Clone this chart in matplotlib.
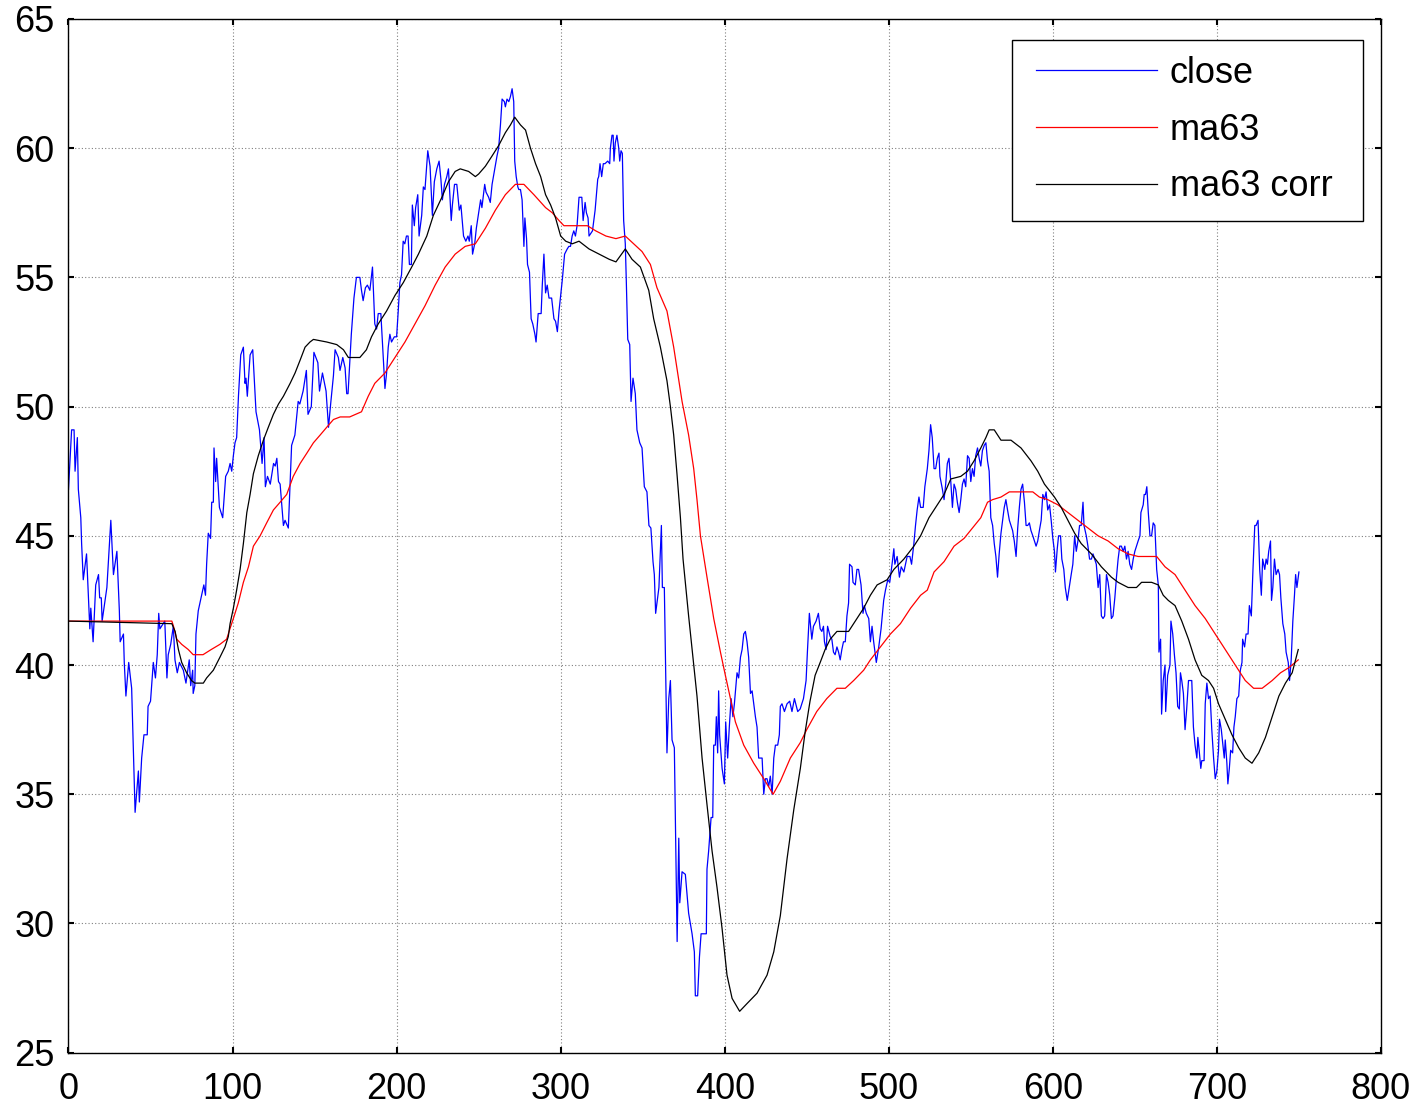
import matplotlib
matplotlib.use("Agg")
import matplotlib.pyplot as plt
from matplotlib.patches import Rectangle

# ---- data ----
close_x = [0, 1.9, 3.4, 4.0, 5.4, 6.0, 7.5, 8.0, 9.0, 11.0, 13.0, 13.6, 15.0, 16.6, 18.3, 19.0, 20.0, 20.5,
           23.4, 25.8, 27.4, 29.5, 31.0, 31.5, 33.5, 34.0, 35.0, 36.7, 38.5, 40.6, 42.6, 43.2, 44.6, 46.0,
           48.0, 48.5, 50.0, 51.7, 53.0, 54.1, 55.0, 55.7, 58.7, 60.0, 60.8, 62.3, 63.9, 64.9, 66.3, 67.6,
           70.0, 71.6, 73.6, 74.5, 75.7, 76.0, 77.0, 77.7, 79.1, 81.1, 82.5, 83.5, 84.2, 85.2, 86.6, 87.3,
           88.3, 88.7, 89.7, 90.3, 92.0, 94.0, 95.8, 97.4, 98.5, 99.5, 100.5, 101.5, 102.5, 103.6, 105.0,
           106.6, 107.6, 108.2, 109.0, 110.7, 112.3, 114.3, 116.4, 118.0, 119.2, 120.0, 121.3, 123.0, 125.0,
           126.0, 127.0, 128.0, 129.0, 131.0, 132.0, 134.0, 136.0, 138.0, 140.0, 141.0, 143.0, 145.0, 146.0,
           148.0, 149.6, 152.0, 153.0, 154.8, 157.0, 158.5, 159.8, 161.5, 162.5, 164.5, 165.5, 167.2, 168.6,
           169.6, 170.4, 172.4, 174.0, 175.5, 177.6, 178.6, 179.6, 181.0, 182.2, 183.7, 185.3, 186.7, 187.8,
           188.8, 190.4, 191.8, 192.9, 193.9, 194.9, 195.9, 196.9, 198.6, 200.0, 201.0, 202.0, 203.0, 204.0,
           205.0, 206.0, 207.0, 207.8, 209.0, 209.6, 210.8, 211.6, 212.9, 213.7, 215.3, 216.3, 217.3, 219.0,
           220.4, 221.8, 223.0, 224.5, 225.9, 227.0, 227.9, 229.2, 230.6, 231.6, 233.3, 234.0, 235.3, 236.7,
           238.2, 239.2, 240.8, 242.2, 243.5, 244.3, 245.5, 246.3, 247.6, 248.6, 250.0, 251.2, 252.0, 253.7,
           254.5, 256.1, 257.1, 258.2, 259.8, 261.2, 262.2, 263.3, 264.3, 265.7, 266.3, 267.3, 268.4, 269.4,
           270.4, 271.4, 272.0, 272.9, 273.9, 274.5, 275.5, 276.5, 277.6, 278.2, 279.2, 279.8, 281.0, 282.0,
           283.0, 284.3, 285.0, 286.3, 288.1, 288.8, 289.8, 290.8, 291.8, 292.9, 294.5, 295.9, 296.9, 298.0,
           299.0, 301.0, 302.4, 304.0, 305.0, 306.0, 307.0, 308.0, 309.0, 310.0, 311.2, 312.9, 313.7, 314.9,
           315.7, 316.7, 317.3, 319.4, 320.0, 321.0, 322.6, 323.2, 324.0, 325.0, 326.0, 327.0, 328.7, 329.9,
           330.3, 331.3, 332.0, 332.5, 333.3, 334.3, 335.4, 336.0, 336.8, 337.6, 338.4, 339.4, 340.0, 340.9,
           342.1, 342.9, 344.1, 345.5, 346.5, 348.2, 349.6, 351.0, 352.6, 353.8, 355.0, 356.3, 357.1, 357.9,
           359.1, 359.9, 361.4, 362.0, 363.2, 364.8, 365.9, 366.9, 367.9, 369.3, 371.0, 372.0, 372.6, 374.0,
           376.0, 378.0, 380.1, 381.5, 382.1, 383.5, 384.6, 385.6, 387.2, 388.8, 389.2, 390.2, 391.7, 392.7,
           393.3, 394.3, 394.9, 395.7, 396.3, 396.9, 398.4, 399.8, 400.6, 401.8, 402.8, 403.9, 405.0, 405.9,
           407.5, 408.5, 409.6, 410.6, 411.6, 412.6, 413.6, 414.6, 415.7, 416.7, 417.7, 418.7, 419.7, 420.7,
           422.8, 423.8, 424.8, 425.8, 426.8, 427.8, 428.9, 429.9, 430.9, 432.3, 433.3, 433.9, 434.9, 436.4,
           438.0, 439.6, 441.0, 442.5, 444.5, 446.0, 448.0, 449.6, 450.4, 451.6, 453.1, 454.1, 455.7, 457.1,
           458.2, 459.2, 460.2, 460.8, 461.8, 462.7, 464.3, 465.3, 466.3, 467.3, 468.4, 469.4, 470.4, 471.4,
           472.4, 473.5, 474.5, 475.5, 476.1, 477.6, 478.2, 479.6, 480.6, 481.6, 483.1, 484.3, 485.1, 486.3,
           487.8, 488.8, 489.8, 490.8, 492.4, 493.9, 495.3, 496.9, 498.0, 499.4, 500.6, 502.0, 503.1, 503.7,
           505.1, 506.5, 507.6, 509.2, 510.2, 511.2, 512.9, 513.9, 515.3, 516.3, 517.3, 518.4, 519.4, 521.0,
           522.0, 523.5, 524.5, 525.5, 526.5, 527.6, 528.6, 529.6, 530.6, 531.2, 532.7, 533.7, 534.7, 535.7,
           536.7, 537.8, 538.8, 539.8, 540.8, 541.8, 542.9, 543.9, 544.9, 545.9, 546.9, 548.0, 549.0, 550.0,
           551.0, 552.0, 553.0, 554.1, 555.1, 556.1, 557.1, 558.2, 559.2, 560.2, 561.2, 562.2, 563.3, 564.3,
           565.3, 566.3, 567.3, 568.4, 569.4, 570.4, 571.4, 572.4, 573.5, 574.5, 575.5, 576.5, 577.6, 578.6,
           579.6, 580.6, 581.6, 582.7, 583.7, 584.7, 585.7, 586.7, 587.8, 588.8, 589.8, 590.8, 591.8, 592.9,
           593.9, 594.9, 595.9, 596.9, 598.0, 599.0, 600.0, 601.0, 601.6, 602.7, 603.5, 604.7, 605.5, 606.7,
           607.6, 608.8, 610.2, 611.2, 612.2, 613.3, 614.3, 615.3, 616.3, 617.3, 618.4, 619.0, 620.4, 621.4,
           622.4, 623.5, 624.5, 625.5, 626.5, 627.6, 628.6, 629.6, 630.6, 631.6, 632.7, 633.7, 634.7, 635.7,
           636.7, 637.8, 638.8, 639.8, 640.8, 641.8, 642.9, 643.9, 644.9, 645.9, 646.9, 648.0, 649.0, 650.0,
           651.0, 652.0, 653.1, 653.7, 655.1, 655.7, 656.5, 657.3, 658.2, 659.2, 660.2, 661.2, 662.2, 663.3,
           664.3, 664.7, 665.7, 666.3, 667.3, 668.4, 668.8, 670.0, 671.4, 672.0, 673.1, 674.1, 675.1, 676.1,
           677.1, 677.8, 678.6, 679.6, 680.6, 681.6, 682.7, 683.7, 684.7, 685.7, 686.7, 687.8, 688.4, 689.2,
           690.2, 690.8, 692.2, 692.9, 693.9, 694.9, 695.9, 696.9, 698.0, 699.0, 700.0, 701.0, 701.6, 702.7,
           703.5, 704.5, 705.1, 706.1, 706.7, 707.6, 708.4, 709.6, 710.4, 711.2, 712.2, 713.3, 714.3, 715.3,
           715.7, 716.9, 717.8, 719.0, 719.8, 721.0, 722.0, 723.1, 723.9, 725.1, 726.1, 727.1, 727.9, 729.2,
           730.0, 730.8, 731.6, 732.7, 733.3, 734.1, 735.1, 736.1, 737.3, 738.2, 739.0, 740.2, 741.4, 742.2,
           743.5, 744.3, 745.3, 746.3, 747.3, 748.0, 748.8, 750.0]
close_y = [46.8, 49.1, 49.1, 47.5, 48.8, 46.8, 45.7, 44.7, 43.3, 44.3, 41.4, 42.2, 40.9, 43.1, 43.5, 42.6, 42.6, 41.7,
           43.0, 45.6, 43.5, 44.4, 42.1, 40.9, 41.2, 40.1, 38.8, 40.1, 39.1, 34.3, 35.9, 34.7, 36.4, 37.3,
           37.3, 38.4, 38.6, 40.1, 39.5, 40.4, 42.0, 41.4, 41.7, 39.5, 40.4, 40.8, 41.5, 40.2, 39.7, 40.1,
           39.8, 39.3, 40.2, 39.2, 39.8, 38.9, 39.2, 41.2, 42.1, 42.7, 43.1, 42.7, 43.9, 45.1, 44.9, 46.3,
           46.3, 48.4, 47.1, 48.0, 46.1, 45.7, 47.3, 47.5, 47.8, 47.5, 48.1, 48.6, 48.8, 50.4, 52.0,
           52.3, 50.9, 51.1, 50.4, 52.0, 52.2, 49.8, 49.1, 47.8, 48.8, 46.9, 47.3, 47.0, 47.8,
           47.7, 48.0, 47.1, 47.0, 45.4, 45.6, 45.3, 48.5, 48.9, 50.2, 50.1, 50.6, 51.4, 49.7,
           50.0, 52.1, 51.7, 50.6, 51.3, 50.6, 49.2, 50.1, 51.2, 52.2, 51.9, 51.4, 51.9, 51.5,
           50.5, 50.5, 52.8, 54.2, 55.0, 55.0, 54.5, 54.1, 54.6, 54.7, 54.5, 55.4, 53.2, 53.0,
           53.6, 53.6, 52.0, 50.7, 51.3, 52.3, 52.8, 52.5, 52.7, 52.7, 53.7, 54.8, 55.1, 56.4,
           56.3, 56.6, 56.6, 55.5, 55.5, 57.8, 57.0, 57.7, 58.2, 56.6, 57.4, 58.5, 58.4, 59.9,
           59.3, 57.4, 58.7, 59.2, 59.5, 58.8, 58.0, 58.6, 58.9, 59.2, 57.2, 57.8, 58.6, 58.6,
           57.6, 57.8, 56.6, 56.4, 56.6, 56.4, 57.0, 55.9, 56.3, 56.9, 57.5, 58.0, 57.7, 58.6,
           58.3, 58.1, 57.9, 58.6, 59.2, 59.7, 60.0, 60.9, 61.9, 61.8, 61.6, 61.9, 61.8, 62.0,
           62.3, 61.8, 59.5, 58.9, 58.5, 58.4, 58.4, 58.0, 56.2, 57.3, 56.5, 55.5, 55.2, 53.4,
           53.2, 52.8, 52.5, 53.6, 53.6, 54.7, 55.9, 54.4, 54.7, 54.2, 54.2, 53.4, 53.3, 52.9,
           53.7, 54.9, 55.9, 56.1, 56.2, 56.2, 56.6, 56.8, 56.6, 57.0, 58.1, 58.1, 57.2, 57.9,
           57.5, 57.3, 56.6, 56.8, 57.1, 57.6, 58.8, 58.9, 59.4, 58.9, 59.4, 59.4, 59.5, 59.4,
           60.0, 60.5, 60.5, 59.5, 60.2, 60.5, 60.0, 59.5, 59.9, 59.8, 57.2, 56.3, 54.9, 52.6,
           52.4, 50.2, 51.1, 50.5, 49.1, 48.6, 48.4, 46.9, 46.7, 45.4, 45.3, 44.0, 43.5, 42.0,
           42.6, 43.0, 45.4, 43.0, 43.0, 36.6, 38.7, 39.4, 37.1, 36.8, 29.3, 33.3, 30.8, 32.0,
           31.9, 30.4, 29.6, 28.9, 27.2, 27.2, 28.7, 29.6, 29.6, 29.6, 32.1, 32.8, 34.1, 34.1,
           36.9, 36.9, 38.0, 36.6, 39.0, 37.3, 36.0, 35.4, 37.8, 36.4, 37.6, 38.7, 38.0, 38.5,
           39.7, 39.5, 40.3, 40.6, 41.2, 41.3, 40.9, 40.3, 38.9, 39.0, 38.5, 38.0, 37.6, 36.4,
           36.4, 35.0, 35.6, 35.6, 35.3, 35.7, 35.0, 36.4, 36.9, 36.9, 37.3, 38.4, 38.5, 38.2,
           38.5, 38.6, 38.2, 38.7, 38.2, 38.3, 38.7, 39.4, 40.5, 42.0, 41.0, 41.5, 41.7, 42.0,
           41.4, 41.3, 41.5, 40.9, 40.6, 41.5, 41.1, 41.0, 40.5, 40.4, 40.7, 40.5, 40.2, 40.6,
           40.9, 40.9, 41.9, 42.4, 43.9, 43.8, 43.2, 43.1, 43.7, 43.7, 43.1, 42.0, 42.3, 42.0,
           41.8, 40.9, 41.5, 40.9, 40.1, 40.7, 41.4, 42.5, 42.9, 43.3, 43.2, 43.9, 44.5, 43.9,
           44.2, 43.4, 43.8, 43.6, 43.9, 44.2, 44.2, 43.9, 44.7, 45.4, 46.0, 46.5, 46.1, 46.1,
           46.9, 47.6, 48.3, 49.3, 48.8, 47.6, 47.6, 48.0, 48.2, 47.3, 46.8, 46.4, 47.0, 47.8,
           48.0, 47.1, 46.1, 47.0, 46.8, 46.3, 45.9, 46.4, 47.0, 47.2, 46.9, 48.1, 48.0, 47.1,
           47.6, 47.3, 48.1, 48.4, 48.0, 47.7, 48.3, 48.5, 48.6, 47.9, 47.5, 45.7, 45.4, 44.7,
           44.2, 43.4, 44.3, 45.1, 45.6, 46.1, 46.4, 46.0, 45.6, 45.4, 45.2, 44.8, 44.2, 45.3,
           46.1, 46.8, 47.0, 46.3, 45.4, 45.4, 45.5, 45.2, 45.0, 44.8, 44.6, 44.8, 45.2, 45.6,
           46.6, 46.4, 46.7, 46.0, 46.2, 45.6, 44.9, 44.4, 43.6, 44.5, 45.0, 45.0, 44.1, 43.7,
           43.0, 42.5, 43.1, 43.5, 43.9, 45.0, 44.4, 44.8, 45.4, 45.4, 46.3, 45.4, 45.0, 44.6,
           44.1, 44.1, 44.3, 44.1, 43.9, 43.0, 43.5, 41.9, 41.8, 41.9, 43.5, 43.2, 42.7, 41.8,
           41.9, 42.6, 43.4, 44.1, 44.6, 44.6, 44.4, 44.6, 44.1, 44.4, 43.9, 43.7, 44.1, 44.4,
           44.6, 44.8, 45.0, 45.9, 46.2, 46.6, 46.6, 46.9, 45.9, 45.0, 45.0, 45.5, 45.4, 43.7,
           43.1, 40.5, 41.0, 38.1, 39.4, 40.0, 38.2, 39.6, 40.0, 41.7, 41.2, 40.4, 39.7, 38.4,
           38.3, 39.7, 39.4, 38.9, 37.5, 38.3, 39.4, 39.4, 39.4, 37.6, 36.9, 36.4, 37.2, 36.7,
           36.0, 36.3, 36.3, 38.5, 39.3, 38.7, 38.8, 37.5, 36.4, 35.6, 35.9, 36.7, 37.9, 37.5,
           37.0, 36.4, 37.1, 36.2, 35.4, 36.0, 36.7, 36.6, 37.6, 38.0, 38.7, 38.8, 39.8, 40.1,
           41.0, 40.7, 41.2, 41.2, 42.3, 41.9, 43.7, 45.4, 45.4, 45.6, 43.7, 42.7, 44.1, 43.7,
           44.1, 43.9, 44.4, 44.8, 42.5, 43.0, 44.1, 43.5, 43.7, 43.5, 42.6, 41.6, 41.2, 40.5,
           40.1, 39.4, 40.2, 41.7, 42.7, 43.5, 43.0, 43.6]

ma63_x = [0, 63, 64, 66, 69, 73, 76, 82, 87, 92.3, 96.4, 98.4, 100.5, 103.5, 106.6, 109.7, 112.7, 116.8,
          120.8, 124.9, 129, 133, 137, 141.2, 145.3, 149.3, 153.4, 157.4, 161.5, 165.6, 171.4, 178.6,
          182.7, 186.7, 192.9, 199, 205.1, 211.2, 217.3, 223.5, 229.6, 235.7, 241.8, 248, 254.1, 260.2,
          266.3, 272.4, 274.5, 277.6, 283.7, 290.8, 294.9, 299, 302, 316.3, 321.4, 327.6, 333.7, 339.4,
          344.5, 349.6, 354.7, 358.7, 364.8, 368.9, 374, 378, 381.1, 383.1, 385.2, 389.2, 393.3, 397.4,
          400.4, 403.5, 406.5, 411.6, 417.7, 423.8, 429.5, 433.9, 440, 446.1, 450, 456.1, 462.2, 468.4, 473.5,
          478.6, 484.7, 488.8, 494.9, 501, 507.1, 513.3, 519.4, 523.5, 527.6, 533.7, 539.8, 545.9, 551,
          556.1, 560.2, 563.3, 568.4, 573.5, 587.8, 591.8, 596.9, 603.1, 609.2, 615.3, 621.4, 627.6,
          633.7, 639.8, 645.9, 652, 663.3, 668.4, 674.5, 680.6, 686.7, 692.9, 699, 705.1, 711.2, 717.3,
          722.4, 727.6, 733.7, 738.8, 743.9, 749.6]
ma63_y = [41.7, 41.7, 41.5, 41.0, 40.8, 40.6, 40.4, 40.4, 40.6, 40.8, 41.0, 41.4, 41.8, 42.4, 43.2, 43.8, 44.6, 45.0,
          45.5, 46.0, 46.3, 46.6, 47.3, 47.8, 48.2, 48.6, 48.9, 49.2, 49.5, 49.6, 49.6, 49.8,
          50.4, 50.9, 51.3, 51.9, 52.5, 53.2, 53.9, 54.7, 55.4, 55.9, 56.2, 56.3, 56.9, 57.6,
          58.2, 58.6, 58.6, 58.6, 58.2, 57.7, 57.5, 57.2, 57.0, 57.0, 56.8, 56.6, 56.5, 56.6,
          56.3, 56.0, 55.5, 54.6, 53.7, 52.3, 50.2, 48.9, 47.6, 46.4, 45.0, 43.4, 41.8, 40.5,
          39.6, 38.7, 37.8, 36.9, 36.2, 35.6, 35.0, 35.5, 36.4, 37.0, 37.5, 38.2, 38.7, 39.1, 39.1,
          39.4, 39.8, 40.2, 40.7, 41.2, 41.6, 42.2, 42.7, 42.9, 43.6, 44.0, 44.6, 44.9, 45.3,
          45.7, 46.3, 46.4, 46.5, 46.7, 46.7, 46.5, 46.4, 46.2, 45.9, 45.6, 45.3, 45.0,
          44.8, 44.5, 44.3, 44.2, 44.2, 43.8, 43.5, 42.9, 42.3, 41.8, 41.2, 40.6, 40.0, 39.4,
          39.1, 39.1, 39.4, 39.7, 39.9, 40.2]

corr_x = [0, 63, 65, 67, 69, 72, 75, 77, 82.2, 84.2, 88.3, 92.3, 95.4, 97.4, 98.5, 100.5, 102.5, 104.6,
          106.6, 108.7, 110.7, 112.7, 115.7, 118.8, 121.8, 124.9, 128, 131, 135.1, 138.1, 141.2, 144.2,
          147.2, 149.3, 157.4, 163.5, 167.6, 170.6, 177.6, 181.6, 184.7, 188.8, 193.9, 199, 204.1, 209.2,
          213.3, 218.4, 222.4, 227.6, 231.6, 235.7, 238.8, 243.9, 248, 250, 254.1, 258.2, 262.2, 266.3,
          269.4, 272, 275.5, 278.6, 281.6, 284.7, 287.8, 290.8, 293.9, 296.9, 300, 303.1, 307.1, 311.2,
          317.3, 323.5, 329.6, 333.7, 339.4, 343.5, 348.6, 353.7, 356.7, 360.8, 364.8, 366.9, 368.9, 370.9,
          373, 374.6, 378, 381.1, 383.1, 386.2, 389.2, 392.3, 395.3, 398.4, 401.4, 404.5, 409.1, 413.6,
          419.7, 425.8, 429.9, 433.9, 438, 442.1, 446.1, 449, 452, 455.1, 458.2, 461.2, 464.3, 468.4,
          475.5, 479.6, 484.7, 488.8, 492.9, 499, 503.1, 509.2, 515.3, 519.4, 524.5, 528.6, 533.7, 537.8,
          543.9, 548, 552, 556.1, 559.2, 561.2, 564.3, 568.4, 574.5, 580.6, 586.7, 590.8, 594.9, 601,
          605.1, 609.2, 613.3, 617.3, 623.5, 629.6, 635.7, 639.8, 645.9, 651, 654.1, 660.2, 664.3, 667.3,
          670.4, 674.5, 678.6, 682.7, 686.7, 690.8, 694.9, 698, 701, 705.1, 709.2, 713.3, 717.3, 721.4,
          725.5, 729.6, 733.7, 737.8, 741.8, 745.9, 749.6]
corr_y = [41.7, 41.6, 41.3, 40.6, 40.1, 39.7, 39.4, 39.3, 39.3, 39.5, 39.8, 40.3, 40.7, 41.1, 41.6, 42.2, 42.9, 43.7,
          44.7, 45.9, 46.6, 47.4, 48.1, 48.7, 49.2, 49.7, 50.1, 50.4, 50.9, 51.3, 51.8, 52.3,
          52.5, 52.6, 52.5, 52.4, 52.2, 51.9, 51.9, 52.2, 52.7, 53.2, 53.7, 54.3, 54.8, 55.4,
          55.9, 56.6, 57.4, 58.1, 58.7, 59.1, 59.2, 59.1, 58.9, 59.0, 59.3, 59.7, 60.1, 60.6,
          60.9, 61.2, 60.9, 60.7, 60.0, 59.4, 58.9, 58.2, 57.8, 57.3, 56.6, 56.4, 56.3, 56.4,
          56.1, 55.9, 55.7, 55.6, 56.1, 55.7, 55.4, 54.5, 53.4, 52.3, 51.0, 50.0, 48.9, 47.4,
          45.7, 44.1, 41.9, 40.0, 38.8, 36.4, 34.6, 32.8, 31.4, 29.8, 28.0, 27.1, 26.6, 26.9,
          27.3, 28.0, 28.9, 30.3, 32.5, 34.4, 36.0, 37.4, 38.6, 39.6, 40.1, 40.6, 41.0, 41.3,
          41.3, 41.7, 42.2, 42.7, 43.1, 43.3, 43.7, 44.1, 44.6, 45.0, 45.7, 46.1, 46.6, 47.2,
          47.3, 47.5, 47.9, 48.4, 48.8, 49.1, 49.1, 48.7, 48.7, 48.4, 47.9, 47.5, 47.0, 46.5,
          46.1, 45.6, 45.1, 44.7, 44.3, 43.8, 43.4, 43.2, 43.0, 43.0, 43.2, 43.2, 43.1, 42.7,
          42.5, 42.3, 41.7, 41.0, 40.2, 39.6, 39.4, 39.1, 38.5, 37.9, 37.3, 36.8, 36.4, 36.2,
          36.6, 37.2, 38.0, 38.8, 39.3, 39.7, 40.6]

legend_labels = ["close", "ma63", "ma63 corr"]
x_ticks = [0, 100, 200, 300, 400, 500, 600, 700, 800]
y_ticks = [25, 30, 35, 40, 45, 50, 55, 60, 65]

# ---- figure ----
plt.rcParams["font.family"] = ["Liberation Sans", "DejaVu Sans"]

fig = plt.figure(figsize=(14.21, 11.09), dpi=100)
ax = fig.add_axes([0.0482, 0.0508, 0.9236, 0.9321])

ax.plot(close_x, close_y, color="#0000ff", lw=0.9, label=legend_labels[0])
ax.plot(ma63_x, ma63_y, color="#ff0000", lw=0.9, label=legend_labels[1])
ax.plot(corr_x, corr_y, color="black", lw=0.9, label=legend_labels[2])

ax.set_xlim(0, 800)
ax.set_ylim(25, 65)
ax.set_xticks(x_ticks)
ax.set_yticks(y_ticks)

ax.grid(True, color="#808080", linestyle=(0, (1, 2)), linewidth=0.8)
ax.tick_params(direction="in", top=True, right=True, length=4.5, width=1.5,
               labelsize=26, pad=10)
ax.tick_params(axis="x", pad=14)
for s in ax.spines.values():
    s.set_linewidth(1.0)

# legend box drawn separately so its padding can follow the original
box = Rectangle((0.7186, 0.8046), 0.2675, 0.1751, transform=ax.transAxes,
                facecolor="white", edgecolor="black", lw=1.0, zorder=4)
ax.add_patch(box)
leg = ax.legend(loc="upper left", bbox_to_anchor=(0.7371, 0.9642), fontsize=26,
                handlelength=3.35, handletextpad=0.36, borderpad=0, labelspacing=0.60,
                borderaxespad=0, frameon=False)
leg.set_zorder(5)

fig.savefig("out.png", dpi=100)
